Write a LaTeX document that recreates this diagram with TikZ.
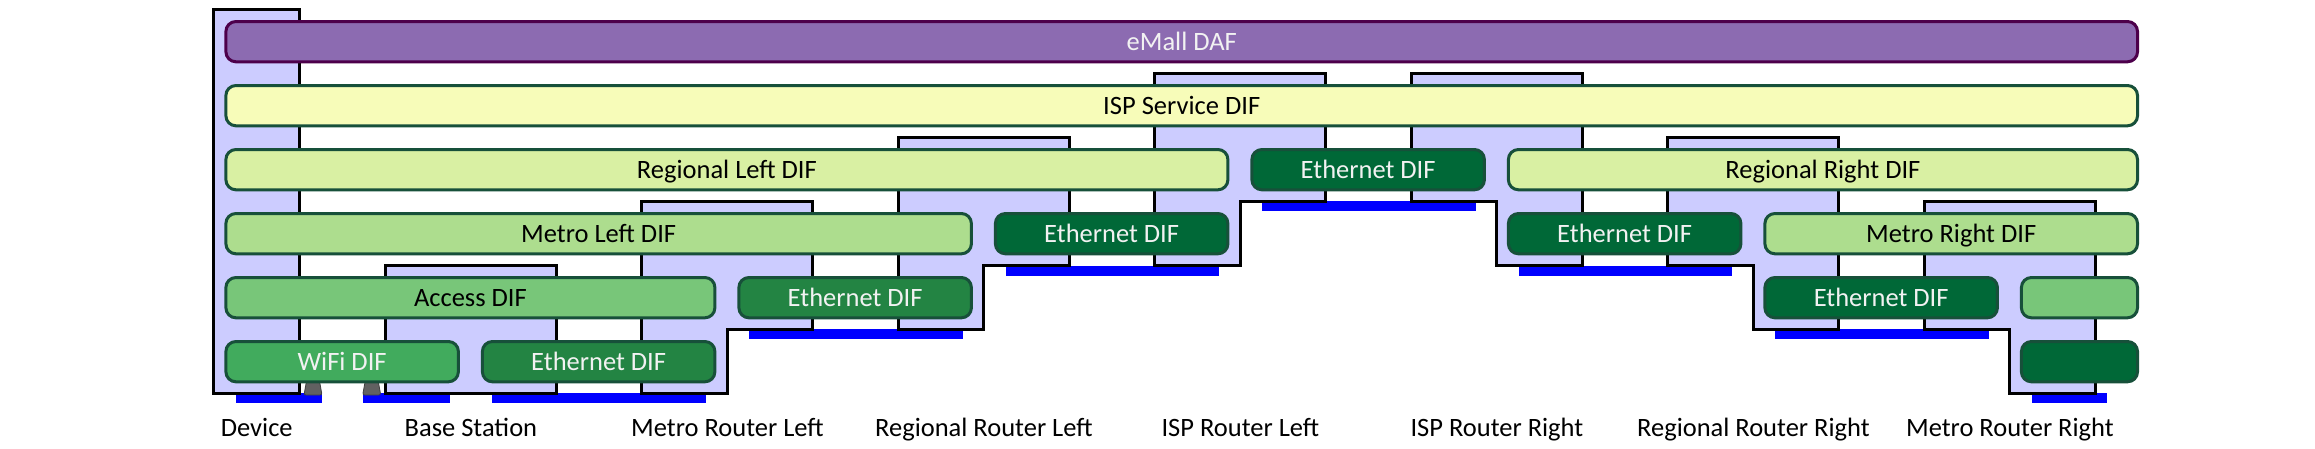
\documentclass[tikz,border=0pt]{standalone}
\usepackage{fontspec}
\setmainfont{Carlito}
\definecolor{stackfill}{HTML}{CCCCFF}
\definecolor{dafpurple}{HTML}{8C6BB1}
\definecolor{dafborder}{HTML}{4D004B}
\definecolor{difborder}{HTML}{17503A}
\definecolor{ispc}{HTML}{F7FCB9}
\definecolor{regc}{HTML}{D9F0A3}
\definecolor{metc}{HTML}{ADDD8E}
\definecolor{accc}{HTML}{78C679}
\definecolor{wific}{HTML}{41AB5D}
\definecolor{ethmid}{HTML}{238443}
\definecolor{ethdark}{HTML}{006837}
\definecolor{lighttext}{HTML}{F2F2F2}
\begin{document}
\begin{tikzpicture}[x=1pt,y=-1pt,
  dif/.style={draw=difborder, line width=3pt, rounded corners=10pt, inner sep=0pt,
    text height=17pt, text depth=0pt, minimum height=40.3pt,
    font=\fontsize{26.5}{30}\selectfont},
  stackshape/.style={fill=stackfill, draw=black, line width=3pt, line join=miter},
  bluebar/.style={fill=blue, draw=none},
  antenna/.style={fill=black!62, draw=black!75, line width=0.8pt, rounded corners=2pt},
  lbl/.style={anchor=base, inner sep=0pt, font=\fontsize{26.5}{30}\selectfont}]
\useasboundingbox (0,0) rectangle (2315,448);

% blue bars
\fill[bluebar] (235.9,393.3) rectangle (322,403.3);
\fill[bluebar] (363,393.3) rectangle (449.5,403.3);
\fill[bluebar] (492.3,393.3) rectangle (705.9,403.3);
\fill[bluebar] (2032,393.3) rectangle (2107,403.3);
\fill[bluebar] (749,329.3) rectangle (962.5,339.3);
\fill[bluebar] (1775.2,329.3) rectangle (1988.6,339.3);
\fill[bluebar] (1006,265.7) rectangle (1219.3,275.7);
\fill[bluebar] (1519,265.7) rectangle (1732,275.7);
\fill[bluebar] (1262.2,201.3) rectangle (1475.8,211.3);

% stacks
\draw[stackshape] (213.7,9.3) rectangle (299.8,393.3);
\draw[stackshape] (385.4,265.7) rectangle (556.4,393.3);
\draw[stackshape] (641.9,201.7) -- (812.9,201.7) -- (812.9,329.3) -- (727.4,329.3) -- (727.4,393.3) -- (641.9,393.3) -- cycle;
\draw[stackshape] (898.4,137.7) -- (1069.4,137.7) -- (1069.4,265.7) -- (983.9,265.7) -- (983.9,329.3) -- (898.4,329.3) -- cycle;
\draw[stackshape] (1154.9,73.7) -- (1325.9,73.7) -- (1325.9,201.3) -- (1240.4,201.3) -- (1240.4,265.7) -- (1154.9,265.7) -- cycle;
\draw[stackshape] (1411.4,73.7) -- (1582.4,73.7) -- (1582.4,265.7) -- (1496.9,265.7) -- (1496.9,201.3) -- (1411.4,201.3) -- cycle;
\draw[stackshape] (1667.9,137.7) -- (1838.9,137.7) -- (1838.9,329.3) -- (1753.4,329.3) -- (1753.4,265.7) -- (1667.9,265.7) -- cycle;
\draw[stackshape] (1924.4,201.7) -- (2095.4,201.7) -- (2095.4,393.3) -- (2009.9,393.3) -- (2009.9,329.3) -- (1924.4,329.3) -- cycle;

% antennas
\draw[antenna] (304,395) -- (306.5,381) -- (319.5,381) -- (322,395) -- cycle;
\draw[antenna] (362.7,395) -- (365.2,381) -- (378.2,381) -- (380.7,395) -- cycle;

% DAF / DIF boxes
\node[dif, draw=dafborder, fill=dafpurple, text=lighttext, minimum width=1911.6pt] (emall) at (1181.7,41.65) {eMall DAF};
\node[dif, fill=ispc, minimum width=1911.6pt] (isp) at (1181.7,105.65) {ISP Service DIF};
\node[dif, fill=regc, minimum width=1002pt] (regl) at (726.9,169.65) {Regional Left DIF};
\node[dif, fill=ethdark, text=lighttext, minimum width=232.5pt] (ethr2) at (1368.15,169.65) {Ethernet DIF};
\node[dif, fill=regc, minimum width=629.1pt] (regr) at (1822.95,169.65) {Regional Right DIF};
\node[dif, fill=metc, minimum width=745.5pt] (metl) at (598.65,233.65) {Metro Left DIF};
\node[dif, fill=ethdark, text=lighttext, minimum width=232.5pt] (ethr3a) at (1111.65,233.65) {Ethernet DIF};
\node[dif, fill=ethdark, text=lighttext, minimum width=232.5pt] (ethr3b) at (1624.65,233.65) {Ethernet DIF};
\node[dif, fill=metc, minimum width=372.6pt] (metr) at (1951.2,233.65) {Metro Right DIF};
\node[dif, fill=accc, minimum width=489pt] (acc) at (470.4,297.65) {Access DIF};
\node[dif, fill=ethmid, text=lighttext, minimum width=232.5pt] (ethr4a) at (855.15,297.65) {Ethernet DIF};
\node[dif, fill=ethdark, text=lighttext, minimum width=232.5pt] (ethr4b) at (1881.15,297.65) {Ethernet DIF};
\node[dif, fill=accc, minimum width=116.1pt] (accr) at (2079.45,297.65) {};
\node[dif, fill=wific, text=lighttext, minimum width=232.5pt] (wifi) at (342.15,361.65) {WiFi DIF};
\node[dif, fill=ethmid, text=lighttext, minimum width=232.5pt] (ethr5) at (598.65,361.65) {Ethernet DIF};
\node[dif, fill=ethdark, minimum width=116.1pt] (ethr5r) at (2079.45,361.65) {};

% labels
\node[lbl] (ldev) at (256.75,436) {Device};
\node[lbl] (lbs) at (470.9,436) {Base Station};
\node[lbl] (lmrl) at (727.4,436) {Metro Router Left};
\node[lbl] (lrrl) at (983.9,436) {Regional Router Left};
\node[lbl] (lispl) at (1240.4,436) {ISP Router Left};
\node[lbl] (lispr) at (1496.9,436) {ISP Router Right};
\node[lbl] (lrrr) at (1753.4,436) {Regional Router Right};
\node[lbl] (lmrr) at (2009.9,436) {Metro Router Right};
\end{tikzpicture}
\end{document}
